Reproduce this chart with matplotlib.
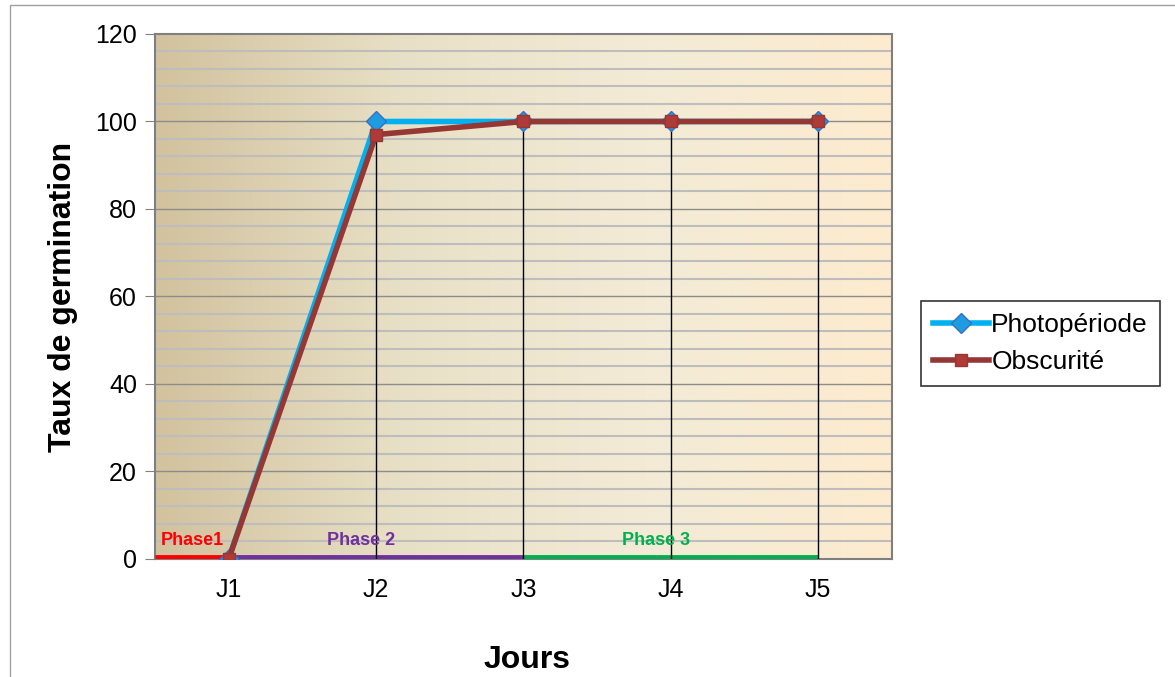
import numpy as np
import matplotlib.pyplot as plt
from matplotlib.colors import LinearSegmentedColormap
from matplotlib.patches import Rectangle

# === Données ===
jours = ["J1", "J2", "J3", "J4", "J5"]
photoperiode = [0, 100, 100, 100, 100]
obscurite = [0, 97, 100, 100, 100]

phases = ["Phase1", "Phase 2", "Phase 3"]
phase_debut = [-0.5, 0, 2]
phase_fin = [0, 2, 4]
phase_couleurs = ["#ff0000", "#7030a0", "#00b050"]

plt.rcParams['font.family'] = ['Liberation Sans', 'DejaVu Sans']

fig = plt.figure(figsize=(11.75, 6.77), dpi=100)
ax = fig.add_axes([0.1319, 0.1743, 0.6272, 0.7755])

# cadre extérieur
fig.patches.append(Rectangle((10 / 1175, -0.01), 1.2, 1 - 5 / 677 + 0.01,
                             transform=fig.transFigure, fill=False,
                             edgecolor="#a0a0a0", lw=1))

x = np.arange(len(jours))

# fond en dégradé
cmap = LinearSegmentedColormap.from_list("fond", ["#d2c29e", "#e8e0c6", "#f3ebd6", "#fdebcf"])
grad = np.linspace(0, 1, 256).reshape(1, -1)
ax.imshow(grad, extent=[-0.5, 4.5, 0, 120], aspect="auto", cmap=cmap, zorder=0)

# grilles
for y in np.arange(4, 120, 4):
    if y % 20 == 0:
        ax.axhline(y, color="#8c8c8c", lw=1, zorder=1)
    else:
        ax.axhline(y, color="#bdbdbd", lw=1.5, zorder=1)

# lignes de projection
for i in range(1, len(jours)):
    ax.vlines(x[i], 0, max(photoperiode[i], obscurite[i]), color="black", lw=1, zorder=4)

# phases
for nom, d, f, c in zip(phases, phase_debut, phase_fin, phase_couleurs):
    ax.plot([d, f], [0.4, 0.4], color=c, lw=3.5, zorder=3, solid_capstyle="butt")
    ax.text((d + f) / 2 - 0.1 * (nom != "Phase1"), 2.3, nom, color=c, fontsize=13,
            fontweight="bold", ha="center", va="bottom", zorder=6)

ax.plot(x, photoperiode, color="#00b0f0", lw=4, marker="D", markersize=10,
        markerfacecolor="#1f9be0", markeredgecolor="#3a6fc0", label="Photopériode", zorder=5)
ax.plot(x, obscurite, color="#953735", lw=4, marker="s", markersize=8,
        markerfacecolor="#b03a37", markeredgecolor="#953735", label="Obscurité", zorder=5)

ax.set_xlim(-0.5, 4.5)
ax.set_ylim(0, 120)
ax.set_yticks(np.arange(0, 121, 20))
ax.set_xticks(x)
ax.set_xticklabels(jours)
ax.tick_params(axis="x", labelsize=18, length=0, pad=14)
ax.tick_params(axis="y", labelsize=18, direction="out", length=7, color="#808080", pad=6)
for s in ax.spines.values():
    s.set_color("#7f7f7f")
    s.set_linewidth(1.5)

ax.set_ylabel("Taux de germination", fontsize=23, fontweight="bold", labelpad=12)
fig.text(527 / 1175, 1 - 660 / 677, "Jours", fontsize=23, fontweight="bold", ha="center", va="center")

leg = ax.legend(loc="center left", bbox_to_anchor=(1.04, 0.41), fontsize=19,
                frameon=True, fancybox=False, edgecolor="black", handlelength=2.1,
                handletextpad=0.1, borderpad=0.45, labelspacing=0.5, borderaxespad=0)
leg.get_frame().set_linewidth(1.2)

plt.savefig("out.png", dpi=100)
